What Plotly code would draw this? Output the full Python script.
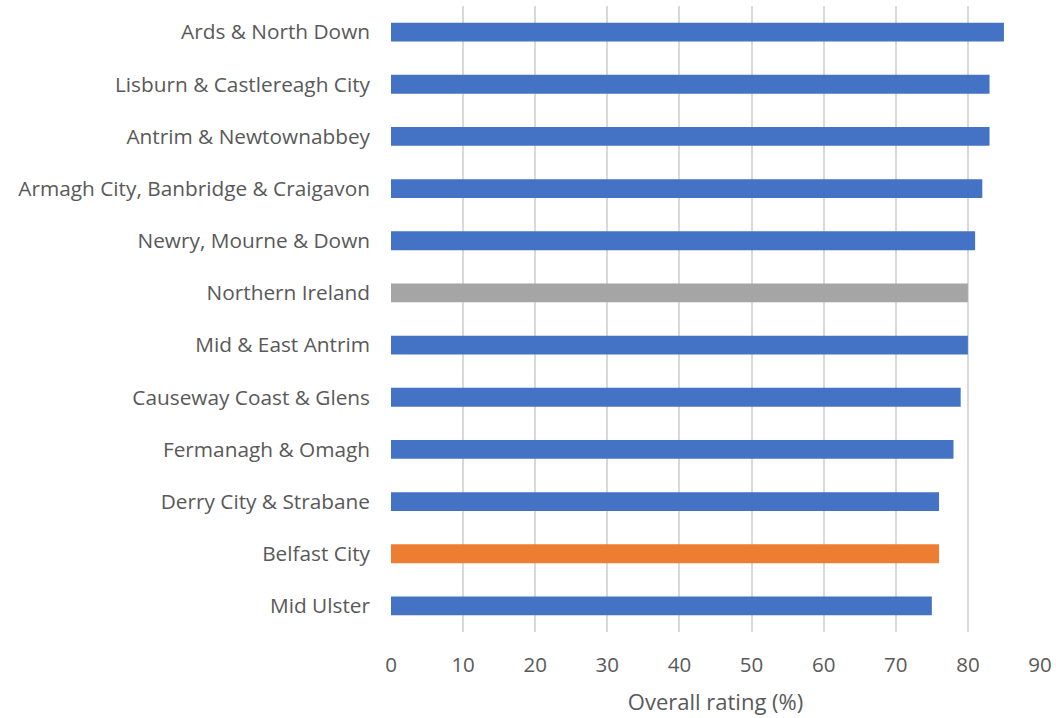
import plotly.graph_objects as go

categories = ["Ards & North Down", "Lisburn & Castlereagh City", "Antrim & Newtownabbey",
              "Armagh City, Banbridge & Craigavon", "Newry, Mourne & Down", "Northern Ireland",
              "Mid & East Antrim", "Causeway Coast & Glens", "Fermanagh & Omagh",
              "Derry City & Strabane", "Belfast City", "Mid Ulster"]
values = [85, 83, 83, 82, 81, 80, 80, 79, 78, 76, 76, 75]

BLUE, GREY, ORANGE = "#4472C4", "#A5A5A5", "#ED7D31"
colors = [GREY if c == "Northern Ireland" else ORANGE if c == "Belfast City" else BLUE
          for c in categories]

fig = go.Figure(go.Bar(
    y=categories, x=values, orientation="h",
    marker=dict(color=colors, line=dict(width=0)),
    width=0.36,
))

font_family = "Open Sans"
fig.update_layout(
    width=1056, height=718,
    margin=dict(l=391, r=16, t=6, b=86),
    plot_bgcolor="white", paper_bgcolor="white",
    showlegend=False,
    font=dict(family=font_family, color="#595959", size=20),
    xaxis=dict(range=[0, 90], dtick=10, showgrid=True, gridcolor="#D9D9D9", gridwidth=1.5,
               zeroline=False, showline=False, ticks="", ticklabelstandoff=18,
               automargin=False,
               tickfont=dict(size=20.5, color="#595959"),
               title=dict(text="Overall rating (%)", font=dict(size=22, color="#595959"), standoff=18)),
    yaxis=dict(autorange="reversed", showgrid=False, zeroline=False, showline=False,
               automargin=False,
               ticks="", ticklabelstandoff=20, tickfont=dict(size=20.8, color="#595959")),
)

fig.write_html("out.html", config={"displayModeBar": False},
               post_script="document.body.style.margin='0';document.body.style.overflow='hidden';")
